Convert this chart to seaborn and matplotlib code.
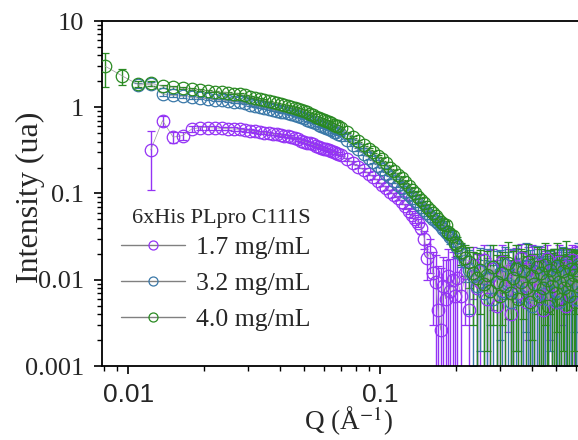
import numpy as np
import pandas as pd
import seaborn as sns
import matplotlib.pyplot as plt
from matplotlib.lines import Line2D
from matplotlib.ticker import LogLocator, NullFormatter

nan = np.nan

# scattering vector Q (1/A), shared by the three curves
q = [
    0.0081, 0.0095, 0.0109, 0.0123, 0.0137, 0.0151, 0.0165, 0.0179, 0.0193, 0.0207,
    0.0221, 0.0235, 0.0249, 0.0263, 0.0277, 0.0291, 0.0305, 0.0319, 0.0333, 0.0347,
    0.0361, 0.0375, 0.0389, 0.0403, 0.0417, 0.0431, 0.0445, 0.0459, 0.0473, 0.0487,
    0.0501, 0.0515, 0.0529, 0.0543, 0.0557, 0.0571, 0.0585, 0.0599, 0.0613, 0.0627,
    0.0641, 0.0655, 0.0669, 0.0683, 0.0697, 0.074, 0.078, 0.082, 0.086, 0.090,
    0.094, 0.098, 0.102, 0.106, 0.110, 0.114, 0.118, 0.122, 0.126, 0.130,
    0.134, 0.138, 0.142, 0.146, 0.150, 0.154, 0.158, 0.162, 0.166, 0.170,
    0.174, 0.178, 0.182, 0.186, 0.190, 0.194, 0.198, 0.202, 0.210, 0.218,
    0.226, 0.234, 0.242, 0.250, 0.258, 0.266, 0.274, 0.282, 0.290, 0.298,
    0.306, 0.314, 0.322, 0.330, 0.338, 0.346, 0.354, 0.362, 0.370, 0.378,
    0.386, 0.394, 0.402, 0.410, 0.418, 0.426, 0.434, 0.442, 0.450, 0.458,
    0.466, 0.474, 0.482, 0.490, 0.498, 0.506, 0.514, 0.522, 0.530, 0.538,
    0.546, 0.554, 0.562, 0.570, 0.578, 0.586, 0.594, 0.602, 0.610, 0.618,
]

# 1.7 mg/mL
i_17 = [
    nan, nan, nan, 0.32, 0.70, 0.45, 0.47, 0.56, 0.58, 0.58,
    0.575, 0.57, 0.565, 0.56, 0.555, 0.545, 0.535, 0.525, 0.51, 0.505,
    0.50, 0.49, 0.485, 0.475, 0.47, 0.46, 0.455, 0.44, 0.425, 0.41,
    0.40, 0.39, 0.38, 0.37, 0.357, 0.35, 0.34, 0.33, 0.324, 0.316,
    0.31, 0.30, 0.295, 0.29, 0.28, 0.25, 0.226, 0.205, 0.187, 0.17,
    0.155, 0.14, 0.127, 0.115, 0.105, 0.097, 0.089, 0.08, 0.071, 0.063,
    0.057, 0.051, 0.046, 0.040, 0.030, 0.018, 0.021, 0.012, 0.0095, 0.0045,
    0.0026, 0.0085, 0.006, 0.011, 0.0075, 0.010, 0.0065, 0.0105, 0.0065, 0.0120,
    0.0045, 0.0150, 0.0080, 0.0095, 0.0170, 0.0060, 0.0110, 0.0135, 0.0050, 0.0090,
    0.0160, 0.0075, 0.0125, 0.0040, 0.0100, 0.0145, 0.0070, 0.0180, 0.0085, 0.0055,
    0.0130, 0.0095, 0.0165, 0.0060, 0.0115, 0.0080, 0.0150, 0.0045, 0.0105, 0.0175,
    0.0070, 0.0120, 0.0090, 0.0140, 0.0055, 0.0100, 0.0160, 0.0075, 0.0130, 0.0085,
    0.0050, 0.0145, 0.0110, 0.0065, 0.0170, 0.0095, 0.0120, 0.0060, 0.0155, 0.0090,
]
e_17 = [
    nan, nan, nan, 0.21, 0.10, 0.07, 0.05, 0.04, 0.03, 0.03,
    0.025, 0.025, 0.024, 0.024, 0.023, 0.022, 0.022, 0.021, 0.02, 0.02,
    0.019, 0.019, 0.018, 0.018, 0.017, 0.017, 0.016, 0.016, 0.015, 0.015,
    0.014, 0.014, 0.014, 0.013, 0.013, 0.013, 0.012, 0.012, 0.012, 0.011,
    0.011, 0.011, 0.010, 0.010, 0.010, 0.009, 0.009, 0.008, 0.008, 0.007,
    0.007, 0.006, 0.006, 0.006, 0.005, 0.005, 0.005, 0.005, 0.005, 0.005,
    0.005, 0.005, 0.005, 0.006, 0.007, 0.008, 0.009, 0.009, 0.010, 0.010,
    0.011, 0.010, 0.011, 0.012, 0.010, 0.011, 0.012, 0.010, 0.011, 0.009,
    0.011, 0.009, 0.012, 0.010, 0.008, 0.012, 0.011, 0.009, 0.012, 0.010,
    0.009, 0.012, 0.010, 0.011, 0.012, 0.009, 0.011, 0.008, 0.012, 0.010,
    0.011, 0.010, 0.009, 0.012, 0.011, 0.010, 0.009, 0.012, 0.011, 0.008,
    0.012, 0.010, 0.011, 0.009, 0.012, 0.011, 0.009, 0.012, 0.010, 0.011,
    0.012, 0.009, 0.011, 0.012, 0.008, 0.010, 0.012, 0.011, 0.009, 0.010,
]

# 3.2 mg/mL
i_32 = [
    nan, nan, 1.80, 1.85, 1.42, 1.37, 1.34, 1.30, 1.27, 1.25,
    1.22, 1.20, 1.18, 1.16, 1.14, 1.11, 1.075, 1.04, 1.01, 0.98,
    0.96, 0.93, 0.91, 0.89, 0.87, 0.85, 0.83, 0.81, 0.79, 0.77,
    0.745, 0.72, 0.69, 0.67, 0.65, 0.63, 0.61, 0.59, 0.57, 0.555,
    0.54, 0.52, 0.51, 0.495, 0.48, 0.415, 0.365, 0.324, 0.29, 0.26,
    0.233, 0.21, 0.19, 0.17, 0.154, 0.14, 0.126, 0.115, 0.105, 0.096,
    0.088, 0.081, 0.075, 0.069, 0.064, 0.059, 0.055, 0.051, 0.048, 0.045,
    0.042, 0.039, 0.036, 0.034, 0.031, 0.029, 0.027, 0.024, 0.020, 0.0165,
    0.013, 0.011, 0.0085, 0.0125, 0.0070, 0.0105, 0.0140, 0.0060, 0.0095, 0.0120,
    0.0075, 0.0150, 0.0090, 0.0055, 0.0115, 0.0085, 0.0135, 0.0065, 0.0100, 0.0145,
    0.0075, 0.0110, 0.0050, 0.0125, 0.0090, 0.0155, 0.0070, 0.0105, 0.0080, 0.0130,
    0.0060, 0.0115, 0.0095, 0.0140, 0.0075, 0.0120, 0.0055, 0.0100, 0.0150, 0.0085,
    0.0110, 0.0065, 0.0135, 0.0090, 0.0070, 0.0125, 0.0100, 0.0060, 0.0145, 0.0080,
]
e_32 = [
    nan, nan, 0.12, 0.10, 0.07, 0.05, 0.05, 0.04, 0.04, 0.04,
    0.035, 0.03, 0.03, 0.03, 0.03, 0.03, 0.028, 0.028, 0.027, 0.026,
    0.025, 0.025, 0.024, 0.024, 0.023, 0.023, 0.022, 0.022, 0.021, 0.021,
    0.02, 0.02, 0.019, 0.019, 0.018, 0.018, 0.017, 0.017, 0.016, 0.016,
    0.015, 0.015, 0.014, 0.014, 0.014, 0.013, 0.012, 0.011, 0.010, 0.009,
    0.009, 0.008, 0.008, 0.007, 0.007, 0.006, 0.006, 0.006, 0.005, 0.005,
    0.005, 0.005, 0.005, 0.005, 0.004, 0.004, 0.004, 0.004, 0.004, 0.004,
    0.004, 0.004, 0.005, 0.005, 0.005, 0.005, 0.005, 0.006, 0.006, 0.007,
    0.009, 0.010, 0.009, 0.011, 0.010, 0.012, 0.011, 0.009, 0.012, 0.010,
    0.011, 0.009, 0.012, 0.010, 0.011, 0.009, 0.012, 0.010, 0.011, 0.012,
    0.009, 0.011, 0.010, 0.012, 0.011, 0.009, 0.012, 0.010, 0.011, 0.009,
    0.012, 0.010, 0.011, 0.009, 0.012, 0.011, 0.010, 0.012, 0.009, 0.011,
    0.010, 0.012, 0.009, 0.011, 0.012, 0.010, 0.011, 0.009, 0.012, 0.010,
]

# 4.0 mg/mL
i_40 = [
    3.0, 2.3, 1.85, 1.9, 1.75, 1.70, 1.66, 1.62, 1.58, 1.55,
    1.52, 1.49, 1.47, 1.44, 1.42, 1.37, 1.32, 1.28, 1.24, 1.21,
    1.17, 1.14, 1.11, 1.08, 1.05, 1.03, 1.00, 0.98, 0.96, 0.93,
    0.90, 0.87, 0.84, 0.81, 0.78, 0.755, 0.73, 0.71, 0.69, 0.67,
    0.65, 0.63, 0.61, 0.60, 0.58, 0.51, 0.45, 0.405, 0.365, 0.33,
    0.30, 0.27, 0.248, 0.223, 0.20, 0.18, 0.165, 0.15, 0.136, 0.123,
    0.111, 0.10, 0.092, 0.084, 0.077, 0.070, 0.065, 0.060, 0.055, 0.051,
    0.047, 0.044, 0.043, 0.036, 0.034, 0.032, 0.027, 0.025, 0.021, 0.018,
    0.016, 0.012, 0.0105, 0.013, 0.009, 0.0115, 0.0075, 0.014, 0.0095, 0.0065,
    0.012, 0.0085, 0.0155, 0.007, 0.0105, 0.0135, 0.006, 0.0095, 0.0125, 0.008,
    0.016, 0.0055, 0.011, 0.009, 0.014, 0.0065, 0.012, 0.008, 0.015, 0.010,
    0.005, 0.013, 0.0085, 0.0115, 0.007, 0.0145, 0.0095, 0.006, 0.0125, 0.008,
    0.016, 0.010, 0.0065, 0.0135, 0.009, 0.0115, 0.0055, 0.013, 0.0085, 0.011,
]
e_40 = [
    1.3, 0.5, 0.15, 0.12, 0.08, 0.06, 0.05, 0.05, 0.04, 0.04,
    0.035, 0.03, 0.03, 0.03, 0.03, 0.03, 0.028, 0.028, 0.027, 0.026,
    0.025, 0.025, 0.024, 0.024, 0.023, 0.023, 0.022, 0.022, 0.021, 0.021,
    0.02, 0.02, 0.019, 0.019, 0.018, 0.018, 0.017, 0.017, 0.016, 0.016,
    0.015, 0.015, 0.014, 0.014, 0.014, 0.013, 0.012, 0.011, 0.010, 0.009,
    0.009, 0.008, 0.008, 0.007, 0.007, 0.006, 0.006, 0.006, 0.005, 0.005,
    0.005, 0.005, 0.005, 0.005, 0.004, 0.004, 0.004, 0.004, 0.004, 0.004,
    0.004, 0.004, 0.005, 0.005, 0.005, 0.005, 0.005, 0.006, 0.006, 0.007,
    0.008, 0.009, 0.010, 0.009, 0.011, 0.010, 0.009, 0.011, 0.010, 0.012,
    0.009, 0.011, 0.012, 0.010, 0.011, 0.012, 0.010, 0.013, 0.009, 0.011,
    0.010, 0.012, 0.009, 0.011, 0.010, 0.012, 0.011, 0.009, 0.012, 0.010,
    0.011, 0.009, 0.012, 0.011, 0.009, 0.012, 0.010, 0.013, 0.011, 0.009,
    0.012, 0.010, 0.011, 0.009, 0.012, 0.010, 0.011, 0.009, 0.012, 0.010,
]

labels = ["1.7 mg/mL", "3.2 mg/mL", "4.0 mg/mL"]
colors = ["#9433f5", "#3a78a8", "#2a8a22"]

sns.set_style("ticks")
plt.rcParams["font.family"] = ["Liberation Serif", "DejaVu Serif"]
plt.rcParams["mathtext.fontset"] = "stix"

fig = plt.figure(figsize=(5.78, 4.40), dpi=100)
# the axes run on past the right edge of the picture, as in the reference
ax = fig.add_axes([102 / 578, 74 / 440, 505.6 / 578, 345 / 440])

for lab, ys, es, c in zip(labels, [i_17, i_32, i_40], [e_17, e_32, e_40], colors):
    df = pd.DataFrame({"q": q, "I": ys, "err": es}).dropna()
    ax.errorbar(df["q"], df["I"], yerr=df["err"], fmt="none", ecolor=c,
                elinewidth=1.0, capsize=3, capthick=0.9, zorder=2)
    sns.lineplot(data=df, x="q", y="I", ax=ax, color="#9a9a9a", linewidth=0.5,
                 marker="o", markersize=9, markerfacecolor="none",
                 markeredgecolor=c, markeredgewidth=0.9,
                 estimator=None, sort=False, zorder=3)

ax.set_xscale("log")
ax.set_yscale("log")
ax.set_xlim(0.00788, 0.8)
ax.set_ylim(0.001, 10)

ax.set_xticks([0.01, 0.1], labels=["0.01", "0.1"],
              fontfamily="Liberation Sans", fontsize=19)
ax.set_yticks([0.001, 0.01, 0.1, 1, 10], labels=["0.001", "0.01", "0.1", "1", "10"],
              fontsize=19)
for axis in (ax.xaxis, ax.yaxis):
    axis.set_minor_locator(LogLocator(base=10, subs=(2, 3, 4, 5, 6, 7, 8, 9), numticks=20))
    axis.set_minor_formatter(NullFormatter())

ax.tick_params(which="major", direction="out", length=6, width=1.2, color="black")
ax.tick_params(which="minor", direction="out", length=3.5, width=1.0, color="black")
ax.tick_params(axis="x", pad=6)
ax.tick_params(axis="y", pad=7)
ax.tick_params(top=False, right=False, which="both")
for sp in ax.spines.values():
    sp.set_linewidth(1.3)
    sp.set_color("black")
ax.set_xlabel("")
ax.set_ylabel("")

fig.text(30 / 578, 1 - 197 / 440, "Intensity (ua)", rotation=90,
         ha="center", va="center", fontsize=23)
fig.text(348 / 578, 1 - 438 / 440, "Q (Å$^{-1}$)", ha="center", va="bottom", fontsize=19.5)

# legend title drawn as its own text so it sits close above the entries
fig.text(221 / 578, 1 - 218 / 440, "6xHis PLpro C111S", ha="center", va="center",
         fontsize=16)
handles = [Line2D([], [], color="#808080", lw=1.0, marker="o", ms=6.5,
                  mfc="none", mec=c, mew=0.9) for c in colors]
ax.legend(handles, labels, loc="upper left",
          bbox_to_anchor=(121 / 578, 1 - 236 / 440), bbox_transform=fig.transFigure,
          frameon=False, fontsize=18.5, handlelength=2.5,
          handletextpad=0.4, labelspacing=0.5, borderpad=0, borderaxespad=0)

fig.savefig("out.png", dpi=100)
